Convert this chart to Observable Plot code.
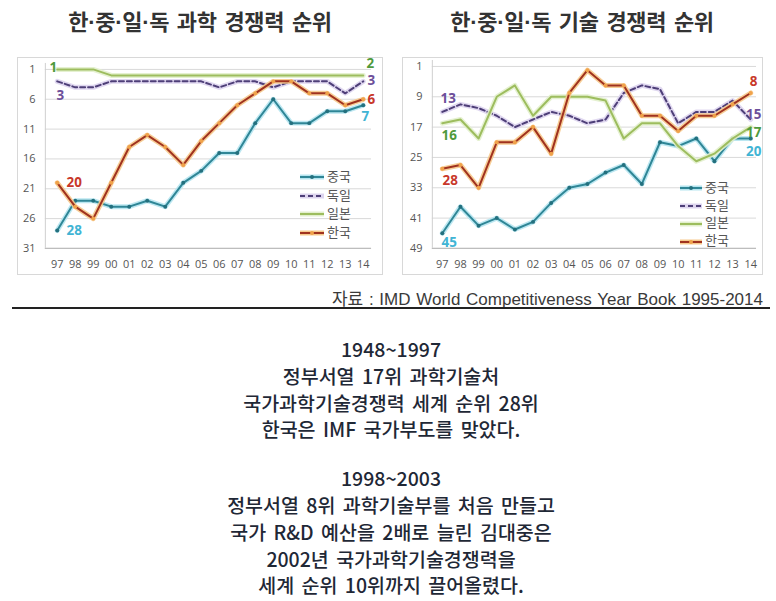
<!DOCTYPE html>
<html>
<head>
<meta charset="utf-8">
<script src="https://cdn.jsdelivr.net/npm/d3@7"></script>
<script src="https://cdn.jsdelivr.net/npm/@observablehq/plot@0.6"></script>
<style>
  html, body { margin: 0; padding: 0; background: #fff; }
  #page { position: relative; width: 776px; height: 601px; overflow: hidden; background: #fff; }
  .title { position: absolute; top: 4px; font-family: "Noto Sans CJK KR", sans-serif; font-weight: 700; font-size: 22px; color: #333; text-align: center; width: 370px; letter-spacing: -0.3px; word-spacing: 3px; }
  .title .d { font-family: "Liberation Sans", sans-serif; font-weight: 700; }
  .box { position: absolute; top: 57px; height: 218px; border: 1px solid #d8d8d8; box-sizing: border-box; background: #fff; }
  .box svg { position: absolute; left: -1px; top: -1px; }
  .legend { position: absolute; font-family: "Noto Sans CJK KR", sans-serif; font-size: 13px; color: #555; }
  .legend div { position: absolute; white-space: nowrap; height: 16px; line-height: 16px; }
  .legend svg { vertical-align: middle; margin-right: 3px; }
  #source { position: absolute; right: 13px; top: 285px; font-family: "Liberation Sans", "Noto Sans CJK KR", sans-serif; font-size: 17px; color: #3a3a3a; white-space: nowrap; word-spacing: 1px; }
  #sep { position: absolute; left: 12px; top: 307px; width: 758px; height: 2px; background: #222; }
  #notes { position: absolute; left: 0; width: 782px; top: 336px; text-align: center; font-family: "Noto Sans CJK KR", sans-serif; font-weight: 500; font-size: 19.5px; line-height: 26.8px; color: #1f2836; word-spacing: 3px; }
  #notes p { margin: 0; }
  #notes .gap { height: 22px; }
</style>
</head>
<body>
<div id="page">
  <div class="title" style="left:15px;">한<span class="d">·</span>중<span class="d">·</span>일<span class="d">·</span>독 과학 경쟁력 순위</div>
  <div class="title" style="left:397px;">한<span class="d">·</span>중<span class="d">·</span>일<span class="d">·</span>독 기술 경쟁력 순위</div>
  <div class="box" id="sci" style="left:17px; width:366px;"></div>
  <div class="box" id="tech" style="left:402px; width:361px;"></div>
  <div class="legend" id="legSci" style="left:300px; top:168px;"></div>
  <div class="legend" id="legTech" style="left:680px; top:179px;"></div>
  <div id="source">자료 : IMD World Competitiveness Year Book 1995-2014</div>
  <div id="sep"></div>
  <div id="notes"></div>
</div>
<script>
// ---------- data ----------
const yearLabels = ["97","98","99","00","01","02","03","04","05","06","07","08","09","10","11","12","13","14"];
const seriesNames = ["중국", "독일", "일본", "한국"];

// 과학 경쟁력 순위 (science ranking)
const sciChina   = [28,23,23,24,24,23,24,20,18,15,15,10,6,10,10,8,8,7];
const sciGermany = [3,4,4,3,3,3,3,3,3,4,3,3,4,3,3,3,5,3];
const sciJapan   = [1,1,1,2,2,2,2,2,2,2,2,2,2,2,2,2,2,2];
const sciKorea   = [20,24,26,20,14,12,14,17,13,10,7,5,3,3,5,5,7,6];
const sciTicks   = [1,6,11,16,21,26,31];

// 기술 경쟁력 순위 (technology ranking)
const techChina   = [45,38,43,41,44,42,37,33,32,29,27,32,21,22,20,26,20,20];
const techGermany = [13,11,12,14,17,15,13,14,16,15,8,6,7,16,13,13,10,15];
const techJapan   = [16,15,20,9,6,14,9,9,9,10,20,16,16,22,26,24,20,17];
const techKorea   = [28,27,33,21,21,17,24,8,2,6,6,14,14,18,14,14,11,8];
const techTicks   = [1,9,17,25,33,41,49];

const noteLines = [
  ["1948~1997", "정부서열 17위 과학기술처", "국가과학기술경쟁력 세계 순위 28위", "한국은 IMF 국가부도를 맞았다."],
  ["1998~2003", "정부서열 8위 과학기술부를 처음 만들고", "국가 R&D 예산을 2배로 늘린 김대중은", "2002년 국가과학기술경쟁력을", "세계 순위 10위까지 끌어올렸다."]
];

// ---------- styles ----------
const styles = {
  "중국": {stroke: "#2f8696", halo: "#b5e4ef", dash: null, dot: "#24707e", label: "#41b4d4"},
  "독일": {stroke: "#4e3f78", halo: "#ddd4ee", dash: "5,3", dot: null, label: "#6d4f9a"},
  "일본": {stroke: "#9dbd5e", halo: "#e2efcc", dash: null, dot: null, label: "#4f9a3c"},
  "한국": {stroke: "#a0321f", halo: "#f6c98c", dash: null, dot: "#f0a24a", label: "#c8382a"}
};

function makeChart(cfg) {
  const rows = [];
  cfg.series.forEach((vals, s) => vals.forEach((v, i) => rows.push({name: seriesNames[s], i, v})));
  const marks = [
    Plot.ruleY(cfg.ticks, {y: d => d, stroke: "#d9d9d9", strokeWidth: 1}),
    Plot.ruleY([cfg.ticks[cfg.ticks.length - 1]], {stroke: "#bdbdbd", strokeWidth: 1.2}),
    Plot.ruleX([cfg.xdom[0]], {stroke: "#cfcfcf", insetTop: -6}),
    Plot.axisY(cfg.ticks, {label: null, tickSize: 0, tickPadding: 10, fontSize: 11, fill: "#555", fontFamily: "Open Sans, sans-serif"}),
    Plot.axisX(d3.range(yearLabels.length), {label: null, tickSize: 0, tickPadding: 12, tickFormat: i => yearLabels[i], fontSize: 11, fill: "#555", fontFamily: "Open Sans, sans-serif"})
  ];
  seriesNames.forEach(name => {
    const st = styles[name];
    const data = rows.filter(r => r.name === name);
    marks.push(Plot.line(data, {x: "i", y: "v", stroke: st.halo, strokeWidth: 5, strokeOpacity: 0.9}));
    marks.push(Plot.line(data, {x: "i", y: "v", stroke: st.stroke, strokeWidth: 2, strokeDasharray: st.dash}));
    if (st.dot) marks.push(Plot.dot(data, {x: "i", y: "v", r: 2, fill: st.dot, stroke: "none"}));
  });
  // first/last value labels
  const n = yearLabels.length - 1;
  cfg.labels.forEach(([s, end, dx, dy]) => {
    const name = seriesNames[s];
    const idx = end ? n : 0;
    const val = cfg.series[s][idx];
    marks.push(Plot.text([{i: idx, v: val}], {x: "i", y: "v", text: d => String(d.v), dx, dy,
      fill: styles[name].label, fontSize: 13.5, fontWeight: "bold", fontFamily: "Open Sans, sans-serif"}));
  });
  return Plot.plot({
    width: cfg.width, height: 218,
    marginLeft: cfg.ml, marginRight: cfg.mr, marginTop: cfg.mt, marginBottom: 26,
    x: {type: "linear", domain: cfg.xdom, axis: null},
    y: {domain: [cfg.ticks[cfg.ticks.length - 1], cfg.ticks[0]], axis: null},
    style: {background: "transparent", overflow: "visible"},
    marks
  });
}

document.getElementById("sci").appendChild(makeChart({
  width: 366, ml: 28, mr: 10, mt: 12,
  xdom: [-0.66, 17.46], ticks: sciTicks,
  series: [sciChina, sciGermany, sciJapan, sciKorea],
  labels: [[2,false,-4,-2],[1,false,3,14],[3,false,17,0],[0,false,17,0],
           [2,true,7,-12],[1,true,8,-0.5],[3,true,8,0.5],[0,true,2,12]]
}));

document.getElementById("tech").appendChild(makeChart({
  width: 361, ml: 30, mr: 5, mt: 9,
  xdom: [-0.55, 17.32], ticks: techTicks,
  series: [techChina, techGermany, techJapan, techKorea],
  labels: [[1,false,6,-13],[2,false,7,12],[3,false,8,12],[0,false,7,9],
           [3,true,3,-11],[1,true,3,-5],[2,true,3,6],[0,true,3,13]]
}));

// ---------- legends ----------
function legend(el, gap, len) {
  seriesNames.forEach((name, k) => {
    const st = styles[name];
    const row = document.createElement("div");
    row.style.top = (k * gap) + "px";
    const dotSvg = st.dot ? `<circle cx="${len/2}" cy="8" r="2" fill="${st.dot}"/>` : "";
    row.innerHTML = `<svg width="${len}" height="16"><line x1="0" x2="${len}" y1="8" y2="8" stroke="${st.halo}" stroke-width="5"/>` +
      `<line x1="0" x2="${len}" y1="8" y2="8" stroke="${st.stroke}" stroke-width="2" ${st.dash ? `stroke-dasharray="${st.dash}"` : ""}/>${dotSvg}</svg>${name}`;
    el.appendChild(row);
  });
}
legend(document.getElementById("legSci"), 18.5, 24);
legend(document.getElementById("legTech"), 17.7, 22);

// ---------- notes ----------
const notes = document.getElementById("notes");
noteLines.forEach((block, b) => {
  if (b > 0) { const g = document.createElement("div"); g.className = "gap"; notes.appendChild(g); }
  block.forEach(t => { const p = document.createElement("p"); p.textContent = t; notes.appendChild(p); });
});
</script>
</body>
</html>
